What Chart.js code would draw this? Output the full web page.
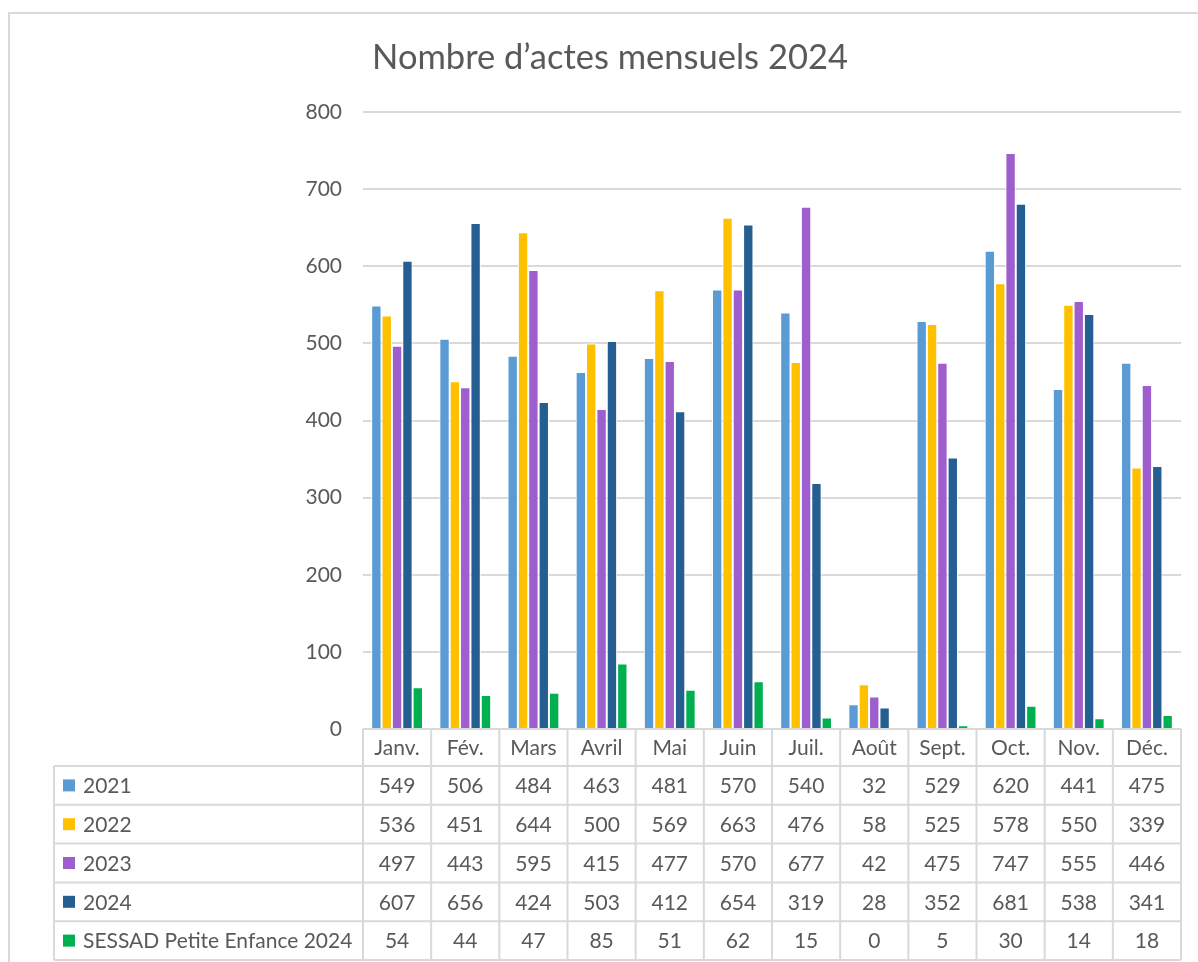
<!DOCTYPE html>
<html>
<head>
<meta charset="utf-8">
<script src="https://cdn.jsdelivr.net/npm/chart.js@4/dist/chart.umd.min.js"></script>
<style>
  body { margin: 0; background: #fff; }
  .wrap { width: 1198px; height: 962px; position: relative; }
</style>
</head>
<body>
<div class="wrap"><canvas id="myChart"></canvas></div>
<script>
const labels = ["Janv.", "Fév.", "Mars", "Avril", "Mai", "Juin", "Juil.", "Août", "Sept.", "Oct.", "Nov.", "Déc."];
const series_names = ["2021", "2022", "2023", "2024", "SESSAD Petite Enfance 2024"];
const values_2021 = [549, 506, 484, 463, 481, 570, 540, 32, 529, 620, 441, 475];
const values_2022 = [536, 451, 644, 500, 569, 663, 476, 58, 525, 578, 550, 339];
const values_2023 = [497, 443, 595, 415, 477, 570, 677, 42, 475, 747, 555, 446];
const values_2024 = [607, 656, 424, 503, 412, 654, 319, 28, 352, 681, 538, 341];
const values_sessad = [54, 44, 47, 85, 51, 62, 15, 0, 5, 30, 14, 18];
const colors = ["#5B9BD5", "#FFC000", "#9E5ECE", "#255E91", "#00B050"];

const all_values = [values_2021, values_2022, values_2023, values_2024, values_sessad];
const text_color = "#595959";
const line_color = "#d9d9d9";
const font_name = "Lato, 'Open Sans', sans-serif";

// frame + title
const framePlugin = {
    id: "frame",
    beforeDraw(chart) {
        const ctx = chart.ctx;
        ctx.save();
        ctx.strokeStyle = line_color;
        ctx.lineWidth = 2;
        ctx.beginPath();
        ctx.moveTo(9, 962);
        ctx.lineTo(9, 13);
        ctx.lineTo(1198, 13);
        ctx.stroke();
        ctx.fillStyle = text_color;
        ctx.font = "34.5px " + font_name;
        ctx.textAlign = "center";
        ctx.textBaseline = "alphabetic";
        ctx.fillText("Nombre d’actes mensuels 2024", 610, 69);
        ctx.restore();
    }
};

// data table under the plot
const tablePlugin = {
    id: "dataTable",
    afterDraw(chart) {
        const ctx = chart.ctx;
        const x = chart.scales.x;
        const area = chart.chartArea;
        const colw = (x.right - x.left) / labels.length;
        const top = area.bottom;
        const header_h = 37;
        const row_h = 38.8;
        const left = 54;
        const bottom = top + header_h + row_h * series_names.length;

        ctx.save();
        ctx.strokeStyle = line_color;
        ctx.lineWidth = 2;
        ctx.beginPath();
        for (let r = 0; r <= series_names.length; r++) {
            let y = top + header_h + r * row_h;
            ctx.moveTo(left, y);
            ctx.lineTo(x.right, y);
        }
        for (let c = 0; c <= labels.length; c++) {
            let xx = x.left + c * colw;
            ctx.moveTo(xx, top);
            ctx.lineTo(xx, bottom);
        }
        ctx.moveTo(left, top + header_h);
        ctx.lineTo(left, bottom);
        ctx.stroke();

        ctx.fillStyle = text_color;
        ctx.font = "21px " + font_name;
        ctx.textBaseline = "middle";
        ctx.textAlign = "center";
        for (let c = 0; c < labels.length; c++) {
            ctx.fillText(labels[c], x.getPixelForValue(c), top + header_h / 2 + 1);
        }
        for (let r = 0; r < series_names.length; r++) {
            let cy = top + header_h + r * row_h + row_h / 2 + 1;
            ctx.textAlign = "center";
            ctx.fillStyle = text_color;
            for (let c = 0; c < labels.length; c++) {
                ctx.fillText(String(all_values[r][c]), x.getPixelForValue(c), cy);
            }
            ctx.fillStyle = colors[r];
            ctx.fillRect(63, cy - 7, 12, 12);
            ctx.fillStyle = text_color;
            ctx.textAlign = "left";
            ctx.fillText(series_names[r], 83, cy);
        }
        ctx.restore();
    }
};

const data = {
    labels: labels,
    datasets: series_names.map((name, i) => ({
        label: name,
        data: all_values[i],
        backgroundColor: colors[i],
        borderColor: "#ffffff",
        borderWidth: 1,
        barPercentage: 1,
        categoryPercentage: 0.76
    }))
};

const config = {
    type: "bar",
    data: data,
    options: {
        responsive: true,
        maintainAspectRatio: false,
        animation: false,
        layout: {
            padding: { top: 112, bottom: 233, left: 0, right: 17 }
        },
        plugins: {
            legend: { display: false },
            tooltip: { enabled: false },
            title: { display: false }
        },
        scales: {
            x: { display: false },
            y: {
                min: 0,
                max: 800,
                ticks: {
                    stepSize: 100,
                    padding: 21,
                    color: text_color,
                    font: { family: font_name, size: 21 }
                },
                grid: { color: line_color, lineWidth: 2, drawTicks: false },
                border: { display: false },
                afterFit(scale) { scale.width = 363; }
            }
        }
    },
    plugins: [framePlugin, tablePlugin]
};

const myChart = new Chart(document.getElementById("myChart"), config);
</script>
</body>
</html>
